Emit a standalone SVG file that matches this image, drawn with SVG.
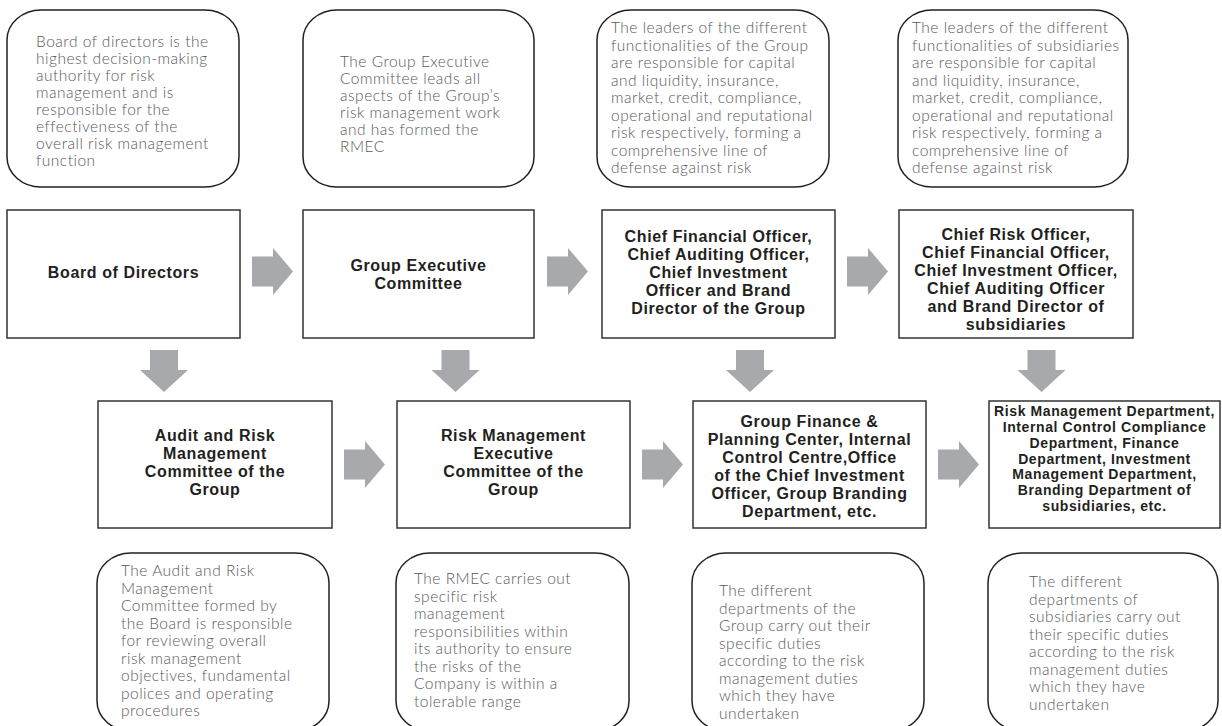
<svg xmlns="http://www.w3.org/2000/svg" width="1222" height="726" viewBox="0 0 1222 726">
<defs>
<style>
.bub{fill:#fff;stroke:#231f20;stroke-width:1.5}
.box{fill:#fff;stroke:#333;stroke-width:1.5}
.bt{font-family:Lato,"Open Sans","Liberation Sans",sans-serif;font-size:15.5px;letter-spacing:0.5px;font-weight:300;fill:#58595b}
.ht{font-family:"Liberation Sans",Arial,sans-serif;font-size:16px;letter-spacing:0.6px;font-weight:700;fill:#231f20;text-anchor:middle}
.hs{font-size:14px}
.arr{fill:#a7a9ac}
</style>
<path id="ar" d="M0,-15 H21 V-23.5 L41,0 L21,23.5 V15 H0 Z"/>
<path id="ad" d="M-14,0 V20 H-24 L0,42 L24,20 H14 V0 Z"/>
</defs>
<rect width="1222" height="726" fill="#fff"/>

<g id="note-board">
<rect class="bub" x="7" y="10" width="232" height="177" rx="34" ry="30"/>
<text class="bt"><tspan x="36" y="47">Board of directors is the</tspan><tspan x="36" y="64">highest decision-making</tspan><tspan x="36" y="81">authority for risk</tspan><tspan x="36" y="98">management and is</tspan><tspan x="36" y="115">responsible for the</tspan><tspan x="36" y="132">effectiveness of the</tspan><tspan x="36" y="149">overall risk management</tspan><tspan x="36" y="166">function</tspan></text>
</g>
<g id="note-gec">
<rect class="bub" x="303" y="10" width="231" height="177" rx="34" ry="30"/>
<text class="bt"><tspan x="340" y="67">The Group Executive</tspan><tspan x="340" y="84">Committee leads all</tspan><tspan x="340" y="101">aspects of the Group’s</tspan><tspan x="340" y="118">risk management work</tspan><tspan x="340" y="135">and has formed the</tspan><tspan x="340" y="152">RMEC</tspan></text>
</g>
<g id="note-leaders-group">
<rect class="bub" x="597" y="10" width="232" height="177" rx="34" ry="30"/>
<text class="bt"><tspan x="611" y="33">The leaders of the different</tspan><tspan x="611" y="50.5">functionalities of the Group</tspan><tspan x="611" y="68">are responsible for capital</tspan><tspan x="611" y="85.5">and liquidity, insurance,</tspan><tspan x="611" y="103">market, credit, compliance,</tspan><tspan x="611" y="120.5">operational and reputational</tspan><tspan x="611" y="138">risk respectively, forming a</tspan><tspan x="611" y="155.5">comprehensive line of</tspan><tspan x="611" y="173">defense against risk</tspan></text>
</g>
<g id="note-leaders-sub">
<rect class="bub" x="898" y="10" width="230" height="177" rx="34" ry="30"/>
<text class="bt"><tspan x="912" y="33">The leaders of the different</tspan><tspan x="912" y="50.5">functionalities of subsidiaries</tspan><tspan x="912" y="68">are responsible for capital</tspan><tspan x="912" y="85.5">and liquidity, insurance,</tspan><tspan x="912" y="103">market, credit, compliance,</tspan><tspan x="912" y="120.5">operational and reputational</tspan><tspan x="912" y="138">risk respectively, forming a</tspan><tspan x="912" y="155.5">comprehensive line of</tspan><tspan x="912" y="173">defense against risk</tspan></text>
</g>

<g id="board">
<rect class="box" x="7" y="210" width="233" height="128"/>
<text class="ht" x="123.5" y="278">Board of Directors</text>
</g>
<g id="gec">
<rect class="box" x="303" y="210" width="231" height="128"/>
<text class="ht"><tspan x="418.5" y="271">Group Executive</tspan><tspan x="418.5" y="289">Committee</tspan></text>
</g>
<g id="cfo-group">
<rect class="box" x="602" y="210" width="233" height="128"/>
<text class="ht"><tspan x="718.5" y="242">Chief Financial Officer,</tspan><tspan x="718.5" y="260">Chief Auditing Officer,</tspan><tspan x="718.5" y="278">Chief Investment</tspan><tspan x="718.5" y="296">Officer and Brand</tspan><tspan x="718.5" y="314">Director of the Group</tspan></text>
</g>
<g id="cro-sub">
<rect class="box" x="899" y="210" width="234" height="128"/>
<text class="ht"><tspan x="1016" y="239.5">Chief Risk Officer,</tspan><tspan x="1016" y="257.5">Chief Financial Officer,</tspan><tspan x="1016" y="275.5">Chief Investment Officer,</tspan><tspan x="1016" y="293.5">Chief Auditing Officer</tspan><tspan x="1016" y="311.5">and Brand Director of</tspan><tspan x="1016" y="329.5">subsidiaries</tspan></text>
</g>

<g id="armc">
<rect class="box" x="98" y="401" width="234" height="127"/>
<text class="ht"><tspan x="215" y="440.5">Audit and Risk</tspan><tspan x="215" y="458.5">Management</tspan><tspan x="215" y="476.5">Committee of the</tspan><tspan x="215" y="494.5">Group</tspan></text>
</g>
<g id="rmec">
<rect class="box" x="397" y="401" width="233" height="127"/>
<text class="ht"><tspan x="513.5" y="440.5">Risk Management</tspan><tspan x="513.5" y="458.5">Executive</tspan><tspan x="513.5" y="476.5">Committee of the</tspan><tspan x="513.5" y="494.5">Group</tspan></text>
</g>
<g id="group-depts">
<rect class="box" x="693" y="401" width="233" height="127"/>
<text class="ht"><tspan x="809.5" y="426.5">Group Finance &amp;</tspan><tspan x="809.5" y="444.5">Planning Center, Internal</tspan><tspan x="809.5" y="462.5">Control Centre,Office</tspan><tspan x="809.5" y="480.5">of the Chief Investment</tspan><tspan x="809.5" y="498.5">Officer, Group Branding</tspan><tspan x="809.5" y="516.5">Department, etc.</tspan></text>
</g>
<g id="sub-depts">
<rect class="box" x="989" y="401" width="231" height="127"/>
<text class="ht hs"><tspan x="1104.5" y="416.4">Risk Management Department,</tspan><tspan x="1104.5" y="432.1">Internal Control Compliance</tspan><tspan x="1104.5" y="447.8">Department, Finance</tspan><tspan x="1104.5" y="463.5">Department, Investment</tspan><tspan x="1104.5" y="479.2">Management Department,</tspan><tspan x="1104.5" y="494.9">Branding Department of</tspan><tspan x="1104.5" y="510.6">subsidiaries, etc.</tspan></text>
</g>

<g id="note-armc">
<rect class="bub" x="97" y="553" width="232" height="178" rx="34" ry="30"/>
<text class="bt"><tspan x="121" y="576">The Audit and Risk</tspan><tspan x="121" y="593.5">Management</tspan><tspan x="121" y="611">Committee formed by</tspan><tspan x="121" y="628.5">the Board is responsible</tspan><tspan x="121" y="646">for reviewing overall</tspan><tspan x="121" y="663.5">risk management</tspan><tspan x="121" y="681">objectives, fundamental</tspan><tspan x="121" y="698.5">polices and operating</tspan><tspan x="121" y="716">procedures</tspan></text>
</g>
<g id="note-rmec">
<rect class="bub" x="396" y="553" width="233" height="178" rx="34" ry="30"/>
<text class="bt"><tspan x="414" y="584">The RMEC carries out</tspan><tspan x="414" y="601.5">specific risk</tspan><tspan x="414" y="619">management</tspan><tspan x="414" y="636.5">responsibilities within</tspan><tspan x="414" y="654">its authority to ensure</tspan><tspan x="414" y="671.5">the risks of the</tspan><tspan x="414" y="689">Company is within a</tspan><tspan x="414" y="706.5">tolerable range</tspan></text>
</g>
<g id="note-group-depts">
<rect class="bub" x="692" y="553" width="232" height="178" rx="34" ry="30"/>
<text class="bt"><tspan x="719" y="596">The different</tspan><tspan x="719" y="613.5">departments of the</tspan><tspan x="719" y="631">Group carry out their</tspan><tspan x="719" y="648.5">specific duties</tspan><tspan x="719" y="666">according to the risk</tspan><tspan x="719" y="683.5">management duties</tspan><tspan x="719" y="701">which they have</tspan><tspan x="719" y="718.5">undertaken</tspan></text>
</g>
<g id="note-sub-depts">
<rect class="bub" x="988" y="553" width="230" height="178" rx="34" ry="30"/>
<text class="bt"><tspan x="1029" y="587">The different</tspan><tspan x="1029" y="604.5">departments of</tspan><tspan x="1029" y="622">subsidiaries carry out</tspan><tspan x="1029" y="639.5">their specific duties</tspan><tspan x="1029" y="657">according to the risk</tspan><tspan x="1029" y="674.5">management duties</tspan><tspan x="1029" y="692">which they have</tspan><tspan x="1029" y="709.5">undertaken</tspan></text>
</g>

<g id="connectors" class="arr">
<use href="#ar" x="252" y="271.5"/>
<use href="#ar" x="547" y="271.5"/>
<use href="#ar" x="847" y="271.5"/>
<use href="#ar" x="344" y="464.5"/>
<use href="#ar" x="642" y="464.5"/>
<use href="#ar" x="938" y="464.5"/>
<use href="#ad" x="164" y="350"/>
<use href="#ad" x="455.5" y="350"/>
<use href="#ad" x="750" y="350"/>
<use href="#ad" x="1041.5" y="350"/>
</g>
</svg>
